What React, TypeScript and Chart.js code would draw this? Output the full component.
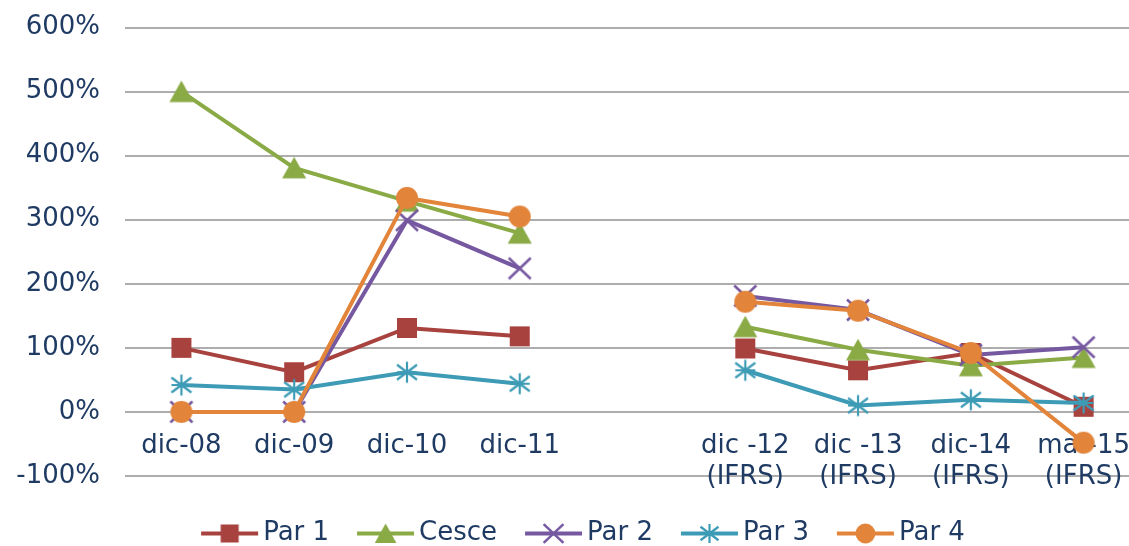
import React, { useEffect, useRef } from 'react';
import { Chart, registerables } from 'chart.js';

Chart.register(...registerables);

const categories: (string | string[])[] = [
  'dic-08',
  'dic-09',
  'dic-10',
  'dic-11',
  '',
  ['dic -12', '(IFRS)'],
  ['dic -13', '(IFRS)'],
  ['dic-14', '(IFRS)'],
  ['mar-15', '(IFRS)'],
];

const par1 = [100, 62, 131, 118, null, 99, 65, 92, 8];
const cesce = [500, 381, 329, 279, null, 133, 97, 72, 85];
const par2 = [0, 0, 299, 224, null, 181, 159, 89, 101];
const par3 = [42, 35, 62, 44, null, 65, 10, 19, 14];
const par4 = [0, 0, 334, 305, null, 172, 158, 92, -48];

const seriesNames = ['Par 1', 'Cesce', 'Par 2', 'Par 3', 'Par 4'];

const yMin = -100;
const yMax = 600;
const yStep = 100;

const FONT = '"DejaVu Sans", Verdana, sans-serif';
const FONT_SIZE = 26;
const TEXT = '#1f3b63';
const COLORS = ['#a8423f', '#8aaa45', '#7558a0', '#3d9bb5', '#e2843a'];
const MARKERS = ['square', 'triangle', 'x', 'star', 'circle'];

function makeMarker(type: string, color: string, scale = 1): HTMLCanvasElement {
  const size = Math.ceil(30 * scale);
  const c = document.createElement('canvas');
  c.width = size;
  c.height = size;
  const ctx = c.getContext('2d')!;
  const cx = size / 2;
  const cy = size / 2;
  const s = scale;
  ctx.fillStyle = color;
  ctx.strokeStyle = color;
  ctx.lineCap = 'butt';
  if (type === 'square') {
    ctx.fillRect(cx - 10 * s, cy - 10 * s, 20 * s, 20 * s);
  } else if (type === 'triangle') {
    ctx.beginPath();
    ctx.moveTo(cx, cy - 11 * s);
    ctx.lineTo(cx + 12 * s, cy + 10.5 * s);
    ctx.lineTo(cx - 12 * s, cy + 10.5 * s);
    ctx.closePath();
    ctx.fill();
  } else if (type === 'x') {
    ctx.lineWidth = 2.5;
    ctx.beginPath();
    ctx.moveTo(cx - 11 * s, cy - 10.5 * s);
    ctx.lineTo(cx + 11 * s, cy + 10.5 * s);
    ctx.moveTo(cx + 11 * s, cy - 10.5 * s);
    ctx.lineTo(cx - 11 * s, cy + 10.5 * s);
    ctx.stroke();
  } else if (type === 'star') {
    ctx.lineWidth = 2.2;
    ctx.beginPath();
    ctx.moveTo(cx, cy - 10.5 * s);
    ctx.lineTo(cx, cy + 10.5 * s);
    ctx.moveTo(cx - 10 * s, cy - 7.5 * s);
    ctx.lineTo(cx + 10 * s, cy + 7.5 * s);
    ctx.moveTo(cx + 10 * s, cy - 7.5 * s);
    ctx.lineTo(cx - 10 * s, cy + 7.5 * s);
    ctx.moveTo(cx - 10 * s, cy);
    ctx.lineTo(cx + 10 * s, cy);
    ctx.stroke();
  } else {
    ctx.beginPath();
    ctx.arc(cx, cy, 11 * s, 0, Math.PI * 2);
    ctx.fill();
  }
  return c;
}

const legendPlugin = {
  id: 'excelLegend',
  afterDraw(chart: any) {
    const ctx: CanvasRenderingContext2D = chart.ctx;
    ctx.save();
    ctx.font = `${FONT_SIZE}px ${FONT}`;
    const items = chart.data.datasets.map((ds: any) => ({
      label: ds.label as string,
      color: ds.borderColor as string,
      img: ds.legendMarker as HTMLCanvasElement,
      w: ctx.measureText(ds.label).width,
    }));
    const iconW = 57;
    const gap = 5;
    const itemGap = 28;
    const total =
      items.reduce((s: number, it: any) => s + iconW + gap + it.w, 0) +
      itemGap * (items.length - 1);
    let x = chart.width / 2 - total / 2;
    const y = 533.5;
    for (const it of items) {
      ctx.strokeStyle = it.color;
      ctx.lineWidth = 4;
      ctx.beginPath();
      ctx.moveTo(x, y);
      ctx.lineTo(x + iconW, y);
      ctx.stroke();
      ctx.drawImage(it.img, x + iconW / 2 - it.img.width / 2, y - it.img.height / 2);
      ctx.fillStyle = TEXT;
      ctx.textBaseline = 'middle';
      ctx.textAlign = 'left';
      ctx.fillText(it.label, x + iconW + gap, y);
      x += iconW + gap + it.w + itemGap;
    }
    ctx.restore();
  },
};

export default function App() {
  const ref = useRef<HTMLCanvasElement | null>(null);

  useEffect(() => {
    if (!ref.current) return;
    const seriesData = [par1, cesce, par2, par3, par4];
    const datasets = seriesData.map((d, i) => ({
      label: seriesNames[i],
      data: d,
      borderColor: COLORS[i],
      backgroundColor: COLORS[i],
      borderWidth: 4,
      pointStyle: makeMarker(MARKERS[i], COLORS[i]),
      legendMarker: makeMarker(MARKERS[i], COLORS[i], 0.9),
      pointRadius: 10,
      pointHoverRadius: 10,
      tension: 0,
      spanGaps: false,
      order: seriesData.length - i,
    }));

    const chart = new Chart(ref.current, {
      type: 'line',
      data: { labels: categories, datasets: datasets as any },
      options: {
        responsive: false,
        animation: false,
        devicePixelRatio: 1,
        events: [],
        layout: { padding: { left: 0, right: 26, top: 27.5, bottom: 70 } },
        plugins: {
          legend: { display: false },
          tooltip: { enabled: false },
        },
        scales: {
          x: {
            type: 'category',
            offset: true,
            position: { y: 0 } as any,
            grid: { display: false, drawTicks: false },
            border: { display: false },
            ticks: {
              autoSkip: false,
              maxRotation: 0,
              minRotation: 0,
              padding: 18,
              color: TEXT,
              font: { family: FONT, size: FONT_SIZE, lineHeight: 1.22 },
            },
            afterFit: (scale: any) => {
              scale.height = 0;
              scale.paddingLeft = 0;
              scale.paddingRight = 0;
            },
          },
          y: {
            type: 'linear',
            min: yMin,
            max: yMax,
            grid: { color: '#adadad', lineWidth: 2, drawTicks: false },
            border: { display: false },
            ticks: {
              stepSize: yStep,
              padding: 25,
              color: TEXT,
              font: { family: FONT, size: FONT_SIZE },
              callback: (v: any) => `${v}%`,
            },
            afterFit: (scale: any) => {
              scale.width = 125;
              scale.paddingTop = 0;
              scale.paddingBottom = 0;
            },
          },
        },
      },
      plugins: [legendPlugin],
    });
    return () => chart.destroy();
  }, []);

  return (
    <div
      style={{
        position: 'fixed',
        left: 0,
        top: 0,
        width: 1129,
        height: 546,
        overflow: 'hidden',
        background: '#ffffff',
      }}
    >
      <canvas ref={ref} width={1166} height={546} style={{ display: 'block', width: 1166, height: 546 }} />
    </div>
  );
}
